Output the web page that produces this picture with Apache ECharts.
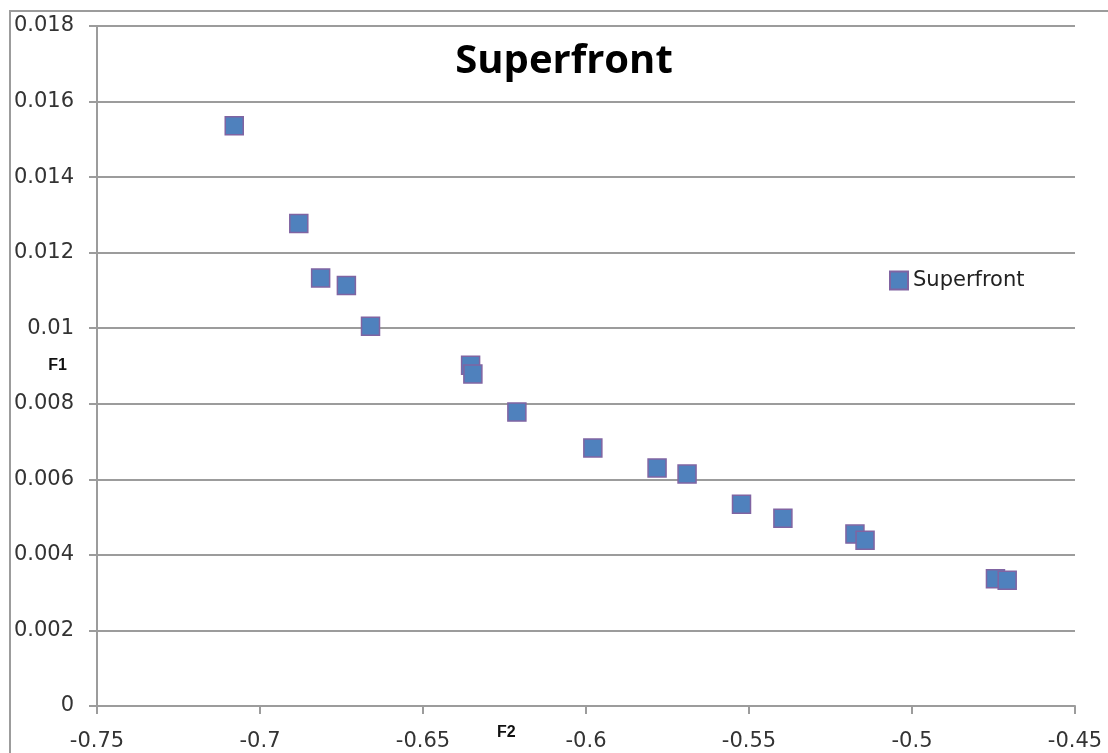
<!DOCTYPE html>
<html>
<head>
<meta charset="utf-8">
<title>Superfront</title>
<script src="https://cdn.jsdelivr.net/npm/echarts@6/dist/echarts.min.js"></script>
<style>
  html, body { margin: 0; padding: 0; background: #fff; }
  #chart { width: 1108px; height: 753px; }
</style>
</head>
<body>
<div id="chart"></div>
<script>
// Pareto front points: F2 on the horizontal axis, F1 on the vertical axis
const f2Values = [-0.7079, -0.6881, -0.6814, -0.6735, -0.6661, -0.6354, -0.6347, -0.6212, -0.5979,
                  -0.5782, -0.5690, -0.5523, -0.5396, -0.5175, -0.5144, -0.4744, -0.4708];
const f1Values = [0.01536, 0.01277, 0.01133, 0.01113, 0.01005, 0.00902, 0.00879, 0.00778, 0.00683,
                  0.00630, 0.00614, 0.00534, 0.00497, 0.00455, 0.00439, 0.00337, 0.00333];
const seriesName = 'Superfront';
const xTicks = { min: -0.75, max: -0.45, step: 0.05 };
const yTicks = { min: 0, max: 0.018, step: 0.002 };

const points = f2Values.map((x, i) => [x, f1Values[i]]);

const gridColor = '#9c9c9c';
const labelFont = { fontFamily: 'DejaVu Sans', fontSize: 21, color: '#333' };

const chart = echarts.init(document.getElementById('chart'), null, { renderer: 'canvas' });
chart.setOption({
  animation: false,
  backgroundColor: '#fff',
  title: {
    text: seriesName,
    left: 559,
    top: 37,
    textAlign: 'center',
    textStyle: { fontFamily: 'Open Sans', fontWeight: 'bold', fontSize: 40, color: '#000' }
  },
  legend: {
    left: 884,
    top: 265,
    itemWidth: 18,
    itemHeight: 18,
    itemGap: 5,
    icon: 'rect',
    textStyle: { fontFamily: 'DejaVu Sans', fontSize: 21, color: '#222' },
    data: [seriesName]
  },
  grid: { left: 97, right: 33, top: 26, bottom: 47, containLabel: false, outerBoundsMode: 'none' },
  xAxis: {
    type: 'value',
    min: xTicks.min,
    max: xTicks.max,
    interval: xTicks.step,
    axisLine: { show: true, onZero: false, lineStyle: { color: gridColor, width: 2 } },
    axisTick: { show: true, length: 8, lineStyle: { color: gridColor, width: 2 } },
    splitLine: { show: false },
    axisLabel: Object.assign({ margin: 25, formatter: v => String(+v.toFixed(2)) }, labelFont)
  },
  yAxis: {
    type: 'value',
    min: yTicks.min,
    max: yTicks.max,
    interval: yTicks.step,
    name: 'F1',
    nameLocation: 'middle',
    nameRotate: 0,
    nameGap: 30,
    nameMoveOverlap: false,
    nameTextStyle: { fontFamily: 'Liberation Sans', fontWeight: 'bold', fontSize: 16, color: '#111' },
    axisLine: { show: true, onZero: false, lineStyle: { color: gridColor, width: 2 } },
    axisTick: { show: true, length: 8, lineStyle: { color: gridColor, width: 2 } },
    splitLine: { show: true, lineStyle: { color: gridColor, width: 2 } },
    axisLabel: Object.assign({ margin: 23, formatter: v => String(+v.toFixed(3)) }, labelFont)
  },
  graphic: [
    {
      // outer chart frame
      type: 'rect',
      shape: { x: 10, y: 11, width: 1200, height: 900 },
      style: { fill: 'none', stroke: gridColor, lineWidth: 2 },
      silent: true,
      z: -1
    },
    {
      // horizontal axis title
      type: 'text',
      left: 497,
      top: 725,
      style: { text: 'F2', font: 'bold 16px "Liberation Sans"', fill: '#111' },
      silent: true
    }
  ],
  series: [{
    name: seriesName,
    type: 'scatter',
    data: points,
    symbol: 'rect',
    symbolSize: 18,
    itemStyle: { color: '#4F81BD', borderColor: '#8064A2', borderWidth: 1.5, opacity: 1 }
  }]
});
</script>
</body>
</html>
